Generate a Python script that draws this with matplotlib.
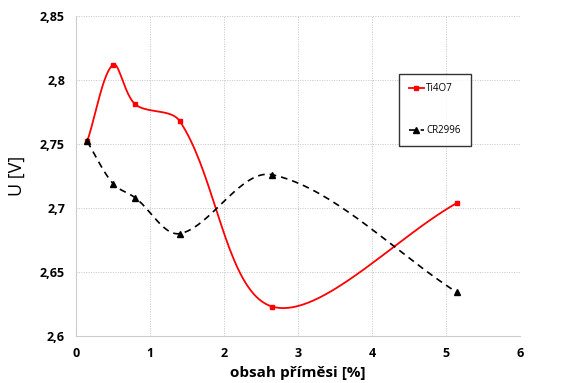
import numpy as np
import matplotlib.pyplot as plt
from matplotlib.ticker import FuncFormatter

# Data
x_vals = [0.15, 0.5, 0.8, 1.4, 2.65, 5.15]
ti4o7 = [2.752, 2.812, 2.781, 2.768, 2.623, 2.704]
cr2996 = [2.752, 2.719, 2.708, 2.680, 2.726, 2.634]

x_ticks = [0, 1, 2, 3, 4, 5, 6]
y_ticks = [2.6, 2.65, 2.7, 2.75, 2.8, 2.85]

# rough pixel size of one unit on each axis (for the smoothing)
SX, SY = 74.0, 1280.0


# Excel-like smoothed line: bezier segments, tangents scaled by chord length
def smooth(x, y, n=40):
    p = np.column_stack([np.array(x) * SX, np.array(y) * SY])
    d = np.linalg.norm(np.diff(p, axis=0), axis=1)
    m = np.zeros_like(p)
    for i in range(len(p)):
        if i == 0:
            m[i] = (p[1] - p[0]) / d[0]
        elif i == len(p) - 1:
            m[i] = (p[-1] - p[-2]) / d[-1]
        else:
            m[i] = (p[i + 1] - p[i - 1]) / (d[i - 1] + d[i])
    out = []
    t = np.linspace(0, 1, n)[:, None]
    for i in range(len(p) - 1):
        p1, p2 = p[i], p[i + 1]
        c1 = p1 + m[i] * d[i] / 3
        c2 = p2 - m[i + 1] * d[i] / 3
        seg = ((1 - t) ** 3) * p1 + 3 * ((1 - t) ** 2) * t * c1 \
            + 3 * (1 - t) * t ** 2 * c2 + t ** 3 * p2
        out.append(seg)
    s = np.vstack(out)
    return s[:, 0] / SX, s[:, 1] / SY


plt.rcParams['font.family'] = ['Open Sans', 'DejaVu Sans']

fig = plt.figure(figsize=(5.72, 3.83), dpi=100)
ax = fig.add_axes([0.133, 0.1227, 0.776, 0.8355])

sx, sy = smooth(x_vals, ti4o7)
ax.plot(sx, sy, color='red', lw=1.3)
ax.plot(x_vals, ti4o7, ls='none', marker='s', ms=2.5, color='red')
ax.plot([], [], color='red', lw=1.3, marker='s', ms=2.5, label='Ti4O7')

sx, sy = smooth(x_vals, cr2996)
ax.plot(sx, sy, color='black', lw=1.2, ls=(0, (4, 3)))
ax.plot(x_vals, cr2996, ls='none', marker='^', ms=4.5, color='black')
ax.plot([], [], color='black', lw=1.2, ls=(0, (4, 3)), marker='^', ms=4,
        label='CR2996')

ax.set_xlim(0, 6)
ax.set_ylim(2.6, 2.85)
ax.set_xticks(x_ticks)
ax.set_yticks(y_ticks)
ax.yaxis.set_major_formatter(FuncFormatter(lambda v, p: ('%g' % round(v, 2)).replace('.', ',')))
ax.tick_params(length=0, labelsize=9, pad=8)
for lab in ax.get_xticklabels() + ax.get_yticklabels():
    lab.set_fontweight('bold')

ax.grid(True, color='#c4c4c4', ls=(0, (1, 1.5)), lw=0.7)
for s in ['top', 'right']:
    ax.spines[s].set_visible(False)
for s in ['left', 'bottom']:
    ax.spines[s].set_color('#cccccc')

ax.set_xlabel('obsah příměsi [%]', fontsize=11, fontweight='bold', labelpad=4)
ax.set_ylabel('U [V]', fontsize=13, labelpad=10)

leg = ax.legend(loc='upper left', bbox_to_anchor=(0.728, 0.82), fontsize=7,
                frameon=True, fancybox=False, edgecolor='black',
                labelspacing=3.2, handlelength=1.5, handletextpad=0.3,
                borderpad=1.0, borderaxespad=0)
leg.get_frame().set_linewidth(1.0)

fig.savefig('out.png', dpi=100)
